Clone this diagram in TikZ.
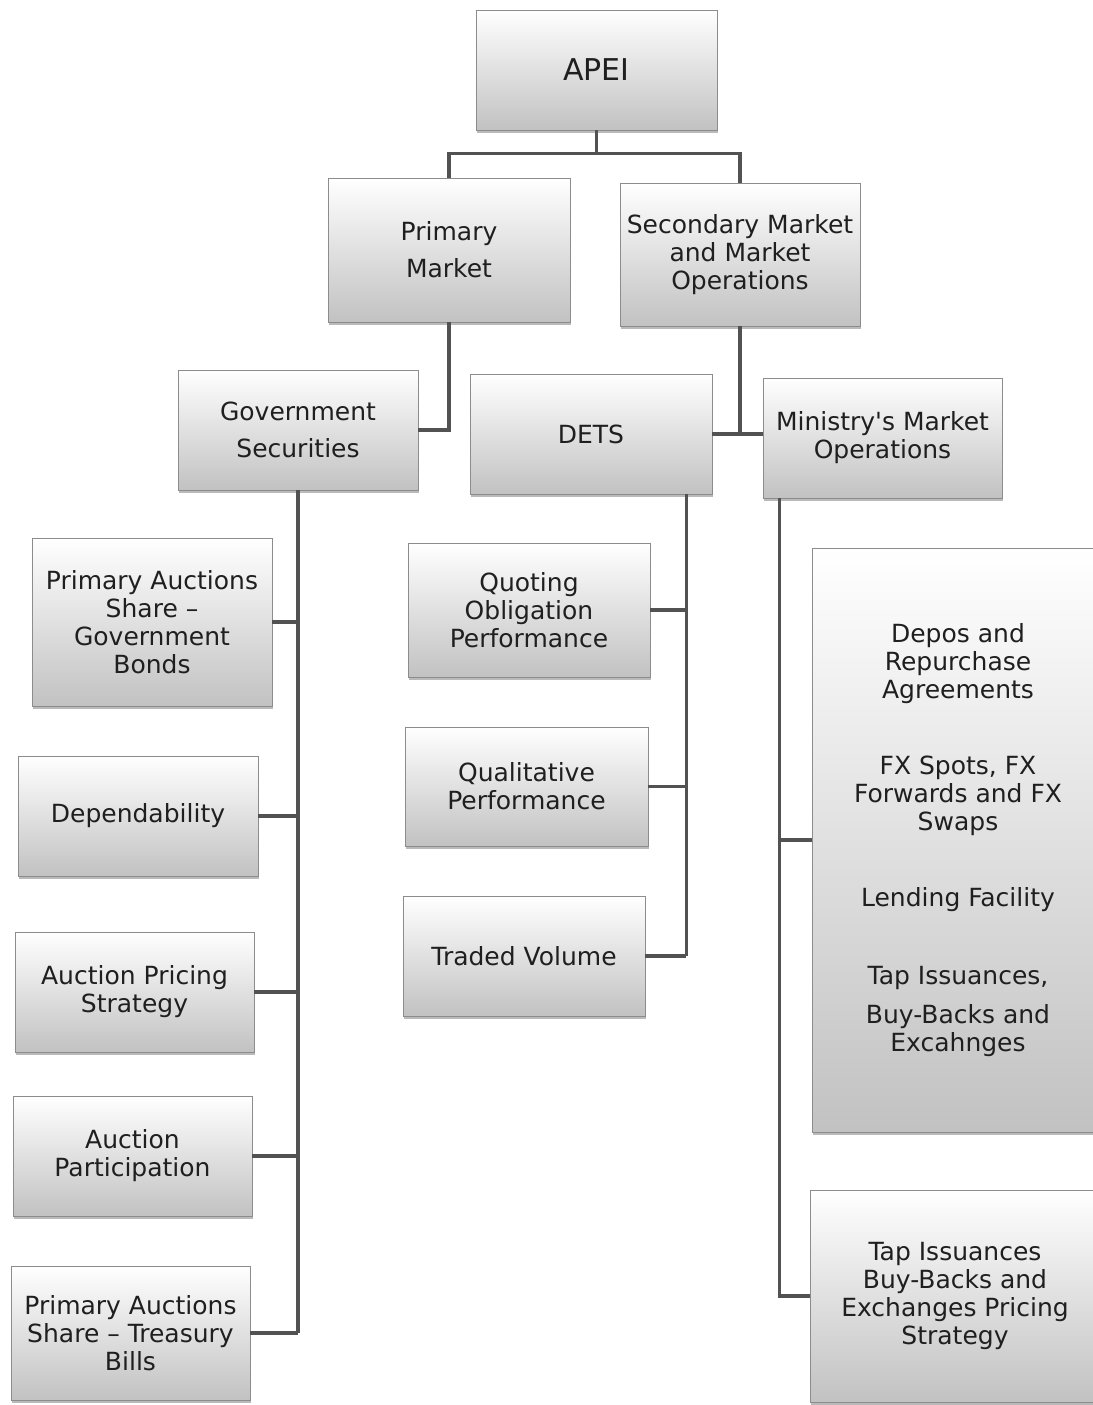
\documentclass[tikz,border=0pt]{standalone}
\usepackage{fontspec}
\setmainfont{DejaVu Sans}
\usetikzlibrary{shadows}
\begin{document}
\begin{tikzpicture}[x=1pt,y=-1pt,
  box/.style={draw=black!45, line width=0.8pt, top color=white, bottom color=black!24,
    align=center, text=black!88, inner sep=2pt,
    font=\fontsize{25}{28}\selectfont,
    drop shadow={shadow xshift=1pt, shadow yshift=-2.5pt, opacity=0.45, fill=black!60}},
  conn/.style={draw=black!68, line width=3.5pt}]
\useasboundingbox (0,0) rectangle (1092,1405);
% top levels
\node[box, minimum width=241, minimum height=120, font=\fontsize{30}{34}\selectfont] (apei) at (596.5,70) {APEI};
\node[box, minimum width=242, minimum height=144] (pm) at (449,250) {Primary\\[9pt]Market};
\node[box, minimum width=240, minimum height=143] (smo) at (740,254.5) {Secondary Market\\and Market\\Operations};
\node[box, minimum width=240, minimum height=120] (gs) at (298,430) {Government\\[9pt]Securities};
\node[box, minimum width=242, minimum height=120] (dets) at (591,434) {DETS};
\node[box, minimum width=239, minimum height=120] (mmo) at (882.5,438) {Ministry\textquotesingle s Market\\Operations};
% left column
\node[box, minimum width=240, minimum height=168] (pa1) at (152,622) {Primary Auctions\\Share --\\Government\\Bonds};
\node[box, minimum width=240, minimum height=120] (dep) at (138,816) {Dependability};
\node[box, minimum width=239, minimum height=120] (aps) at (134.5,992) {Auction Pricing\\Strategy};
\node[box, minimum width=239, minimum height=120] (apart) at (132.5,1156) {Auction\\Participation};
\node[box, minimum width=239, minimum height=134] (pa2) at (130.5,1333) {Primary Auctions\\Share -- Treasury\\Bills};
% middle column
\node[box, minimum width=242, minimum height=134] (qo) at (529,610) {Quoting\\Obligation\\Performance};
\node[box, minimum width=243, minimum height=119] (qp) at (526.5,786.5) {Qualitative\\Performance};
\node[box, minimum width=242, minimum height=120] (tv) at (524,956) {Traded Volume};
% right column (cut by the right edge)
\node[box, minimum width=292, minimum height=584] (big) at (958,840) {Depos and\\Repurchase\\Agreements\\[48pt]FX Spots, FX\\Forwards and FX\\Swaps\\[48pt]Lending Facility\\[50pt]Tap Issuances,\\[11pt]Buy-Backs and\\Excahnges};
\node[box, minimum width=290, minimum height=212] (tibb) at (955,1296) {Tap Issuances\\Buy-Backs and\\Exchanges Pricing\\Strategy};
% connectors
\draw[conn] (apei.south) -- ++(0,23) coordinate (j1);
\draw[conn] (pm.north) |- (j1) -| (smo.north);
\draw[conn] (pm.south) |- (gs.east);
\draw[conn] (smo.south) -- (smo.south |- dets.east);
\draw[conn] (dets.east) -- (mmo.west |- dets.east);
% gov sec children
\draw[conn] (gs.south) -- (gs.south |- pa2.east);
\foreach \c in {pa1,dep,aps,apart,pa2} \draw[conn] (\c.east) -- (\c.east -| gs.south);
% dets children
\path (dets.south east) ++(-26,0) coordinate (dv);
\draw[conn] (dv) -- (dv |- tv.east);
\foreach \c in {qo,qp,tv} \draw[conn] (\c.east) -- (\c.east -| dv);
% ministry children
\path (mmo.south west) ++(17,0) coordinate (mv);
\draw[conn] (mv) |- (tibb.west);
\draw[conn] (big.west) -- (big.west -| mv);
\end{tikzpicture}
\end{document}
